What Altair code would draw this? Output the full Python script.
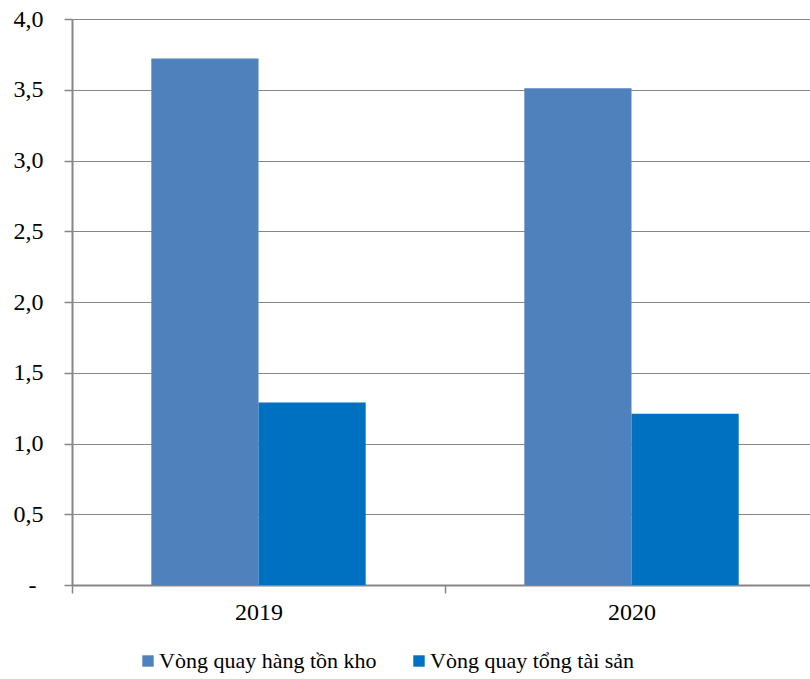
import altair as alt
import pandas as pd

years = ["2019", "2020"]
series = ["Vòng quay hàng tồn kho", "Vòng quay tổng tài sản"]
inventory_turnover = [3.72, 3.51]
asset_turnover = [1.29, 1.21]
colors = ["#4F81BD", "#0070C0"]
y_ticks = [0, 0.5, 1.0, 1.5, 2.0, 2.5, 3.0, 3.5, 4.0]

rows = []
for i, y in enumerate(years):
    rows.append({"year": y, "series": series[0], "value": inventory_turnover[i]})
    rows.append({"year": y, "series": series[1], "value": asset_turnover[i]})
df = pd.DataFrame(rows)

FONT = "Liberation Serif"
GRAY = "#868686"
FS = 22

chart = alt.Chart(df).mark_bar().encode(
    x=alt.X("year:N", title=None, sort=years,
            scale=alt.Scale(paddingInner=0, paddingOuter=0, range=[0, 746]),
            axis=alt.Axis(labelAngle=0, labelFont=FONT, labelFontSize=24,
                          labelColor="black", labelPadding=7,
                          tickBand="extent", tickSize=8, tickColor=GRAY,
                          tickWidth=1.5, domainColor=GRAY, domainWidth=2,
                          grid=False)),
    xOffset=alt.XOffset("series:N", sort=series,
                        scale=alt.Scale(paddingInner=0, paddingOuter=0.74)),
    y=alt.Y("value:Q", title=None,
            scale=alt.Scale(domain=[0, 4.0], nice=False),
            axis=alt.Axis(values=y_ticks,
                          labelExpr="datum.value == 0 ? '-' : replace(format(datum.value, '.1f'), '.', ',')",
                          labelFont=FONT, labelFontSize=24, labelColor="black",
                          labelPadding={"condition": {"test": "datum.value === 0", "value": 28}, "value": 21},
                          tickSize=8, tickColor=GRAY,
                          tickWidth=1.5, domainColor=GRAY, domainWidth=2,
                          gridColor=GRAY, gridWidth=1.2)),
    color=alt.Color("series:N", sort=series,
                    scale=alt.Scale(domain=series, range=colors),
                    legend=alt.Legend(title=None, orient="none",
                                      legendX=65, legendY=631,
                                      direction="horizontal",
                                      symbolType="square", symbolSize=130,
                                      symbolStrokeWidth=0,
                                      labelFont=FONT, labelFontSize=FS,
                                      labelColor="black", labelOffset=0,
                                      columnPadding=31, labelLimit=400)),
).properties(
    width=738, height=566,
    autosize=alt.AutoSizeParams(type="none"),
    padding={"left": 72, "top": 19, "right": 0, "bottom": 94},
).configure(
    background="white", font=FONT
).configure_axis(
    labelFont=FONT
).configure_legend(
    labelFont=FONT
).configure_view(stroke=None)

chart.save("out.html", embed_options={"renderer": "svg", "actions": False})
